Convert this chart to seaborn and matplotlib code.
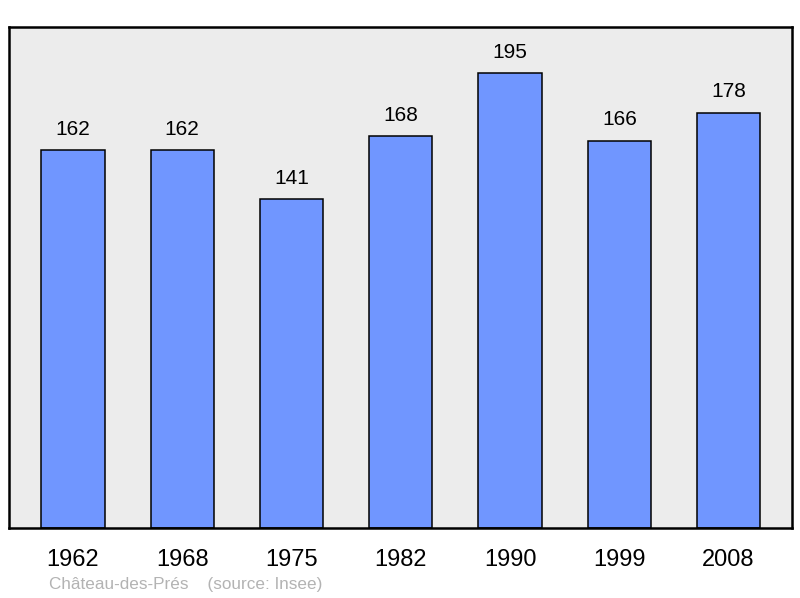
import pandas as pd
import seaborn as sns
import matplotlib.pyplot as plt

years = ['1962', '1968', '1975', '1982', '1990', '1999', '2008']
population = [162, 162, 141, 168, 195, 166, 178]

df = pd.DataFrame({'year': years, 'pop': population})

sns.set_style('white')
plt.rcParams['font.family'] = ['Liberation Sans', 'DejaVu Sans']
plt.rcParams['text.color'] = 'black'
plt.rcParams['xtick.color'] = 'black'

fig = plt.figure(figsize=(8, 5.98), dpi=100)
ax = fig.add_axes([0.01125, 0.117, 0.97875, 0.838])
ax.set_facecolor('#ececec')

sns.barplot(data=df, x='year', y='pop', color='#7096ff', saturation=1,
            width=0.58, edgecolor='black', linewidth=1.1, ax=ax)

ax.set_xlim(-0.585, 6.58)
ax.set_ylim(0, 214.7)
ax.set_xlabel('')
ax.set_ylabel('')
ax.set_yticks([])
ax.tick_params(axis='x', length=0, labelsize=17, labelcolor='black', pad=15)

for s in ax.spines.values():
    s.set_visible(True)
    s.set_color('black')
    s.set_linewidth(1.8)

for container in ax.containers:
    ax.bar_label(container, fmt='%d', padding=8, fontsize=15, color='black')

fig.text(49 / 800, 1 - 584 / 598, 'Château-des-Prés    (source: Insee)',
         color='#b3b3b3', fontsize=12.3, va='center', ha='left')

fig.savefig('out.png', dpi=100)
